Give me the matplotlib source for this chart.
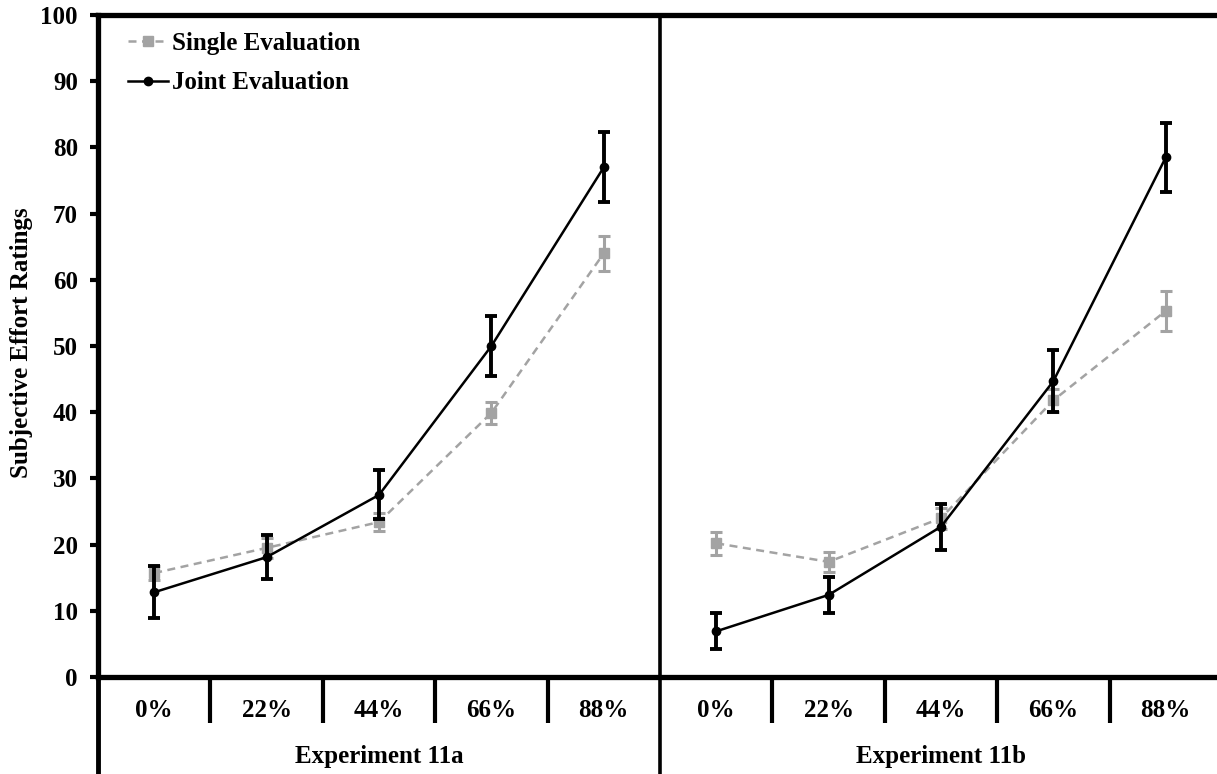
import matplotlib.pyplot as plt
from matplotlib.lines import Line2D

# ========== DATA ==========
CONDITIONS = ["0%", "22%", "44%", "66%", "88%"]
EXPERIMENTS = ["Experiment 11a", "Experiment 11b"]

single_11a = [15.7, 19.5, 23.4, 39.9, 64.0]
single_11a_err = [1.0, 1.5, 1.4, 1.7, 2.6]
joint_11a = [12.8, 18.1, 27.5, 50.0, 77.0]
joint_11a_err = [3.9, 3.3, 3.7, 4.5, 5.3]

single_11b = [20.2, 17.4, 24.0, 41.8, 55.3]
single_11b_err = [1.7, 1.5, 1.6, 1.7, 3.0]
joint_11b = [6.9, 12.4, 22.7, 44.7, 78.5]
joint_11b_err = [2.7, 2.7, 3.5, 4.7, 5.2]
# ==========================

GRAY = "#a3a3a3"
FONT = {"family": "Liberation Serif", "weight": "bold", "size": 18}

plt.rcParams["font.family"] = "Liberation Serif"
plt.rcParams["font.weight"] = "bold"

W, H = 1217, 774
fig = plt.figure(figsize=(W / 100, H / 100), dpi=100)
# axis box in pixels: left 98, bottom at y=677, top at y=15, 112.4 px per category
ax = fig.add_axes([98 / W, (H - 677) / H, 1124 / W, 662 / H])

n = len(CONDITIONS)
groups = [
    (single_11a, single_11a_err, joint_11a, joint_11a_err),
    (single_11b, single_11b_err, joint_11b, joint_11b_err),
]

for g, (s, s_err, j, j_err) in enumerate(groups):
    xs = [g * n + i + 0.5 for i in range(n)]
    ax.errorbar(xs, s, yerr=s_err, color=GRAY, ls=(0, (3.2, 2.2)), lw=1.8,
                marker="s", ms=6.5, mec=GRAY, mfc=GRAY,
                elinewidth=2.2, capsize=4.3, capthick=2.2, zorder=3)
    ax.errorbar(xs, j, yerr=j_err, color="black", ls="-", lw=1.8,
                marker="o", ms=6, elinewidth=2.8, capsize=4.3, capthick=2.8,
                zorder=4)

ax.set_xlim(0, 2 * n)
ax.set_ylim(0, 100)
ax.set_yticks(range(0, 101, 10))
ax.tick_params(axis="y", direction="out", length=5.5, width=3, pad=9,
               labelsize=18)
for lbl in ax.get_yticklabels():
    lbl.set_fontweight("bold")

# category separators below the axis
ax.set_xticks([b for b in range(1, 2 * n) if b % n != 0])
ax.set_xticklabels([])
ax.tick_params(axis="x", direction="out", length=33, width=3)

for side in ["top", "left", "bottom"]:
    ax.spines[side].set_linewidth(3.8)
ax.spines["right"].set_visible(False)

# group boundaries run from the top of the plot down to the bottom edge
trans = ax.get_xaxis_transform()
ax.plot([0, 0], [0, -0.16], transform=trans, color="black", lw=3.5,
        clip_on=False, solid_capstyle="butt")
ax.plot([n, n], [1, -0.16], transform=trans, color="black", lw=2.6,
        clip_on=False, solid_capstyle="butt", zorder=2)

for g, exp in enumerate(EXPERIMENTS):
    for i, cond in enumerate(CONDITIONS):
        ax.text(g * n + i + 0.5, -0.05, cond, transform=trans,
                ha="center", va="center", fontdict=FONT)
    ax.text(g * n + n / 2, -0.12, exp, transform=trans,
            ha="center", va="center", fontdict=FONT)

fig.text(22 / W, 1 - 343 / H, "Subjective Effort Ratings", rotation=90,
         ha="center", va="center", fontdict={**FONT, "size": 18})

handles = [
    Line2D([], [], color=GRAY, ls=(0, (3.2, 2.2)), lw=1.8, marker="s",
           ms=6.5, mec=GRAY, mfc=GRAY),
    Line2D([], [], color="black", lw=1.8, marker="o", ms=6),
]
ax.legend(handles, ["Single Evaluation", "Joint Evaluation"],
          loc="upper left", bbox_to_anchor=(0.027, 0.974), frameon=False,
          prop={"family": "Liberation Serif", "weight": "bold", "size": 18},
          handlelength=1.6, handletextpad=0.15, labelspacing=0.65,
          borderpad=0, borderaxespad=0, numpoints=1)

fig.savefig("out.png", dpi=100)
